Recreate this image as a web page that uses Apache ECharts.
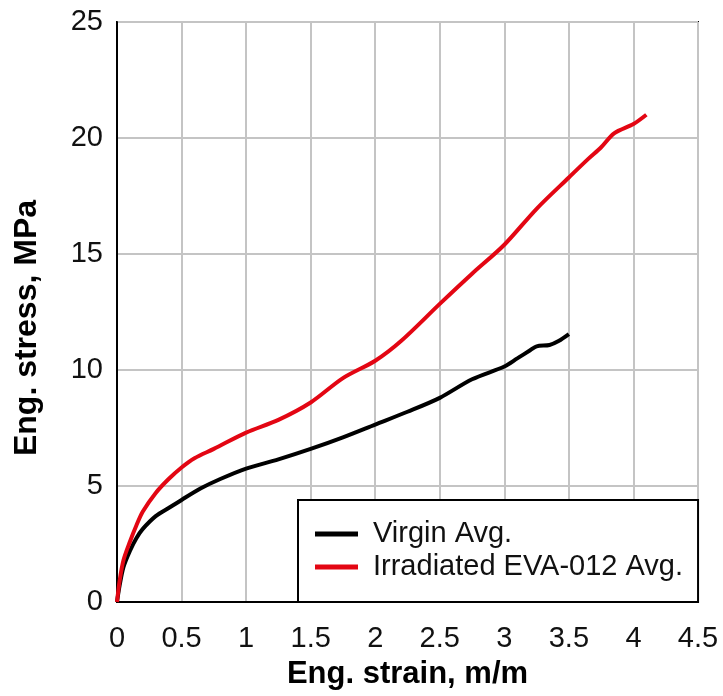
<!DOCTYPE html>
<html>
<head>
<meta charset="utf-8">
<script src="https://cdn.jsdelivr.net/npm/echarts@6/dist/echarts.min.js"></script>
<style>
html,body{margin:0;padding:0;background:#fff;}
#chart{width:723px;height:696px;}
</style>
</head>
<body>
<div id="chart"></div>
<script>
var xTicks = [0, 0.5, 1, 1.5, 2, 2.5, 3, 3.5, 4, 4.5];
var yTicks = [0, 5, 10, 15, 20, 25];

var virginStrain = [0, 0.02, 0.05, 0.1, 0.15, 0.2, 0.3, 0.4, 0.5, 0.65, 0.8, 1.0, 1.25, 1.5, 1.75, 2.0, 2.25, 2.5, 2.75, 3.0, 3.1, 3.2, 3.25, 3.35, 3.42, 3.5];
var virginStress = [0, 0.7, 1.5, 2.2, 2.75, 3.15, 3.7, 4.05, 4.4, 4.9, 5.3, 5.75, 6.15, 6.6, 7.1, 7.65, 8.2, 8.8, 9.6, 10.15, 10.5, 10.85, 11.02, 11.08, 11.25, 11.55];

var redStrain = [0, 0.02, 0.05, 0.1, 0.15, 0.2, 0.3, 0.4, 0.5, 0.6, 0.75, 1.0, 1.25, 1.5, 1.75, 2.0, 2.2, 2.5, 2.75, 3.0, 3.25, 3.5, 3.65, 3.75, 3.85, 4.0, 4.1];
var redStress = [0, 0.9, 1.8, 2.6, 3.3, 3.9, 4.7, 5.3, 5.8, 6.2, 6.6, 7.3, 7.85, 8.6, 9.65, 10.4, 11.25, 12.85, 14.15, 15.4, 16.95, 18.3, 19.1, 19.6, 20.2, 20.6, 21.0];

function pairs(xs, ys) { return xs.map(function (x, i) { return [x, ys[i]]; }); }

var FONT = "'Liberation Sans', Arial, sans-serif";
var chart = echarts.init(document.getElementById('chart'));
chart.setOption({
  animation: false,
  backgroundColor: '#fff',
  grid: { left: 117, top: 22, right: 25, bottom: 94, show: true, borderColor: '#000', borderWidth: 2, backgroundColor: 'transparent' },
  legend: {
    orient: 'vertical', left: 298, top: 500,
    padding: [19, 15, 20, 17],
    backgroundColor: '#fff', borderColor: '#000', borderWidth: 2, borderRadius: 0,
    itemWidth: 43, itemHeight: 5, itemGap: 3, icon: 'rect',
    textStyle: { fontFamily: FONT, fontSize: 29, color: '#111', padding: [0, 0, 0, 10], lineHeight: 30 },
    data: ['Virgin Avg.', 'Irradiated EVA-012 Avg.']
  },
  xAxis: {
    type: 'value', min: 0, max: 4.5, interval: 0.5,
    name: 'Eng. strain, m/m', nameLocation: 'middle', nameGap: 57,
    nameTextStyle: { fontFamily: FONT, fontSize: 31, fontWeight: 'bold', color: '#000' },
    axisLine: { show: true, lineStyle: { color: '#000', width: 2 } },
    axisTick: { show: false },
    axisLabel: { fontFamily: FONT, fontSize: 29, color: '#111', margin: 22 },
    splitLine: { show: true, lineStyle: { color: '#c4c4c4', width: 2 } }
  },
  yAxis: {
    type: 'value', min: 0, max: 25, interval: 5,
    name: 'Eng. stress, MPa', nameLocation: 'middle', nameGap: 74,
    nameTextStyle: { fontFamily: FONT, fontSize: 32, fontWeight: 'bold', color: '#000', padding: [0, 32, 0, 0] },
    axisLine: { show: true, lineStyle: { color: '#000', width: 2 } },
    axisTick: { show: false },
    axisLabel: { fontFamily: FONT, fontSize: 29, color: '#111', margin: 14 },
    splitLine: { show: true, lineStyle: { color: '#c4c4c4', width: 2 } }
  },
  series: [
    { name: 'Virgin Avg.', type: 'line', data: pairs(virginStrain, virginStress), smooth: 0.3, showSymbol: false, lineStyle: { color: '#000', width: 4 }, itemStyle: { color: '#000' } },
    { name: 'Irradiated EVA-012 Avg.', type: 'line', data: pairs(redStrain, redStress), smooth: 0.3, showSymbol: false, lineStyle: { color: '#e30613', width: 4 }, itemStyle: { color: '#e30613' } }
  ]
});
</script>
</body>
</html>
